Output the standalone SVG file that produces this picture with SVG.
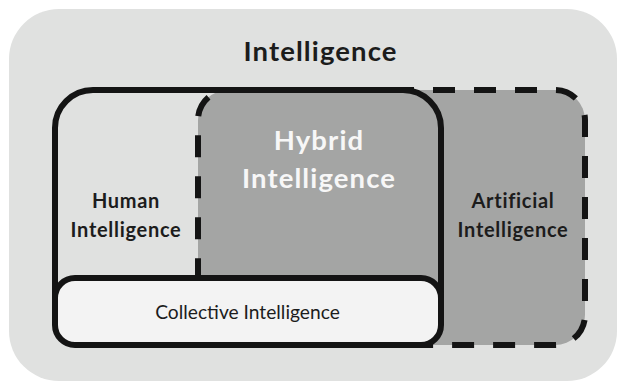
<svg xmlns="http://www.w3.org/2000/svg" width="624" height="387" viewBox="0 0 624 387">
<style>
.t{font-family:Lato,"Open Sans","Liberation Sans",sans-serif;fill:#1c1c1c;text-anchor:middle}
.b{font-weight:bold}
.big{font-size:27.5px;letter-spacing:1.1px}
.mid{font-size:20px;letter-spacing:0.7px}
.sm{font-size:19.2px}
.w{fill:#f7f7f7}
.solid{fill:none;stroke:#141414;stroke-width:6}
.dash{stroke:#141414;stroke-width:6;stroke-dasharray:22 19}
</style>
<g id="intelligence">
<rect x="9" y="9" width="608" height="372" rx="50" fill="#e0e1e0"/>
<text class="t b big" x="320.5" y="61">Intelligence</text>
</g>
<g id="artificial">
<rect class="dash" x="198" y="90" width="387" height="255" rx="30" fill="#a4a5a4"/>
<text class="t b mid" x="513" y="208">Artificial</text>
<text class="t b mid" x="513" y="237">Intelligence</text>
</g>
<g id="human">
<rect class="solid" x="55" y="90" width="386" height="255" rx="38"/>
<text class="t b mid" x="126" y="208">Human</text>
<text class="t b mid" x="126" y="237">Intelligence</text>
</g>
<g id="hybrid">
<text class="t b big w" x="319" y="150">Hybrid</text>
<text class="t b big w" x="319" y="188">Intelligence</text>
</g>
<g id="collective">
<rect x="55" y="278" width="386" height="67" rx="20" fill="#f3f3f3" stroke="#141414" stroke-width="6"/>
<text class="t sm" x="247.5" y="319">Collective Intelligence</text>
</g>
</svg>
